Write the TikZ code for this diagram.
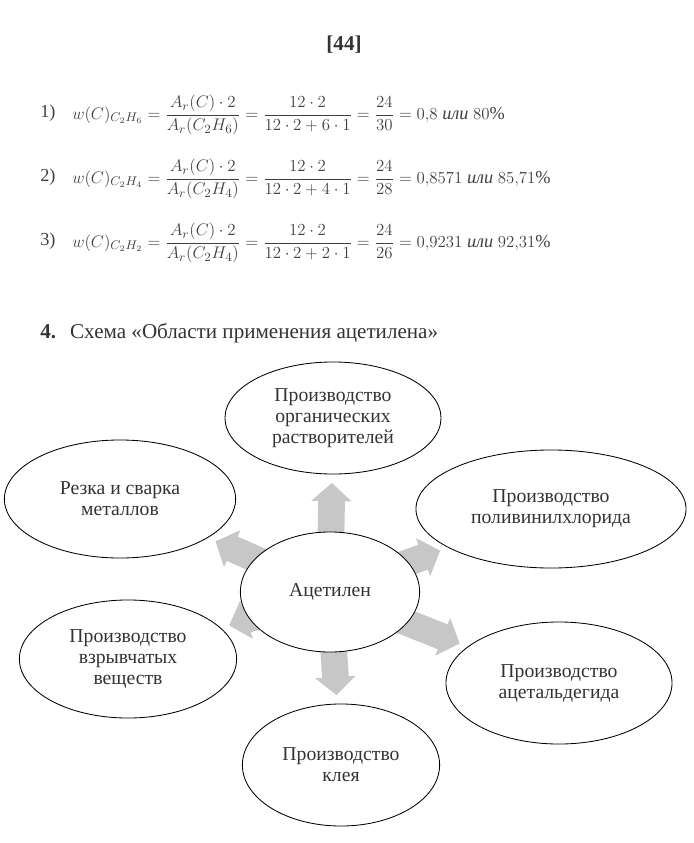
\documentclass[tikz,border=0pt]{standalone}
\usepackage{fontspec}
\setmainfont{Liberation Serif}
\usetikzlibrary{shapes.geometric,arrows.meta,backgrounds}

\tikzset{
    field/.style={ellipse,draw=black,line width=0.6pt,fill=white,inner sep=0pt,align=center,
        text=black!80,font=\fontsize{14}{15}\selectfont},
    bigarr/.style={draw=black!22,line width=19pt,-{Triangle[width=28pt,length=13pt]},
        shorten <=-14pt,shorten >=6pt},
    formula/.style={anchor=west,inner sep=0pt,text=black!75,font=\fontsize{13}{15}\selectfont}
}

\begin{document}
\begin{tikzpicture}[x=0.025cm,y=-0.025cm]
    \useasboundingbox (0,0) rectangle (693,843);
    % Page number
    \node[font=\bfseries\fontsize{15}{15}\selectfont,text=black!80] (page) at (344,45) {[44]};
    % Mass fractions
    \node[formula] (n1) at (40,113) {1)};
    \node[formula] (f1) at (72,115) {$\displaystyle w(C)_{C_2H_6}=\frac{A_r(C)\cdot 2}{A_r(C_2H_6)}=\frac{12\cdot 2}{12\cdot 2+6\cdot 1}=\frac{24}{30}=0{,}8\ \textit{или}\ 80\%$};
    \node[formula] (n2) at (40,177) {2)};
    \node[formula] (f2) at (72,179) {$\displaystyle w(C)_{C_2H_4}=\frac{A_r(C)\cdot 2}{A_r(C_2H_4)}=\frac{12\cdot 2}{12\cdot 2+4\cdot 1}=\frac{24}{28}=0{,}8571\ \textit{или}\ 85{,}71\%$};
    \node[formula] (n3) at (40,241) {3)};
    \node[formula] (f3) at (72,243) {$\displaystyle w(C)_{C_2H_2}=\frac{A_r(C)\cdot 2}{A_r(C_2H_4)}=\frac{12\cdot 2}{12\cdot 2+2\cdot 1}=\frac{24}{26}=0{,}9231\ \textit{или}\ 92{,}31\%$};
    % Scheme
    \node[anchor=west,inner sep=0pt,text=black!80,font=\fontsize{15}{15}\selectfont] (title) at (40,333) {\textbf{4.}\hspace{10pt}Схема «Области применения ацетилена»};

    \node[field,minimum width=4.48cm,minimum height=3.0cm] (ac) at (330,592) {Ацетилен};
    \node[field,minimum width=5.4cm,minimum height=2.8cm] (org) at (333,418) {Производство\\органических\\растворителей};
    \node[field,minimum width=5.78cm,minimum height=2.95cm] (rez) at (120,499) {Резка и сварка\\металлов};
    \node[field,minimum width=6.75cm,minimum height=2.95cm] (pvc) at (551,509) {Производство\\поливинилхлорида};
    \node[field,minimum width=5.43cm,minimum height=2.95cm] (vzr) at (128,659) {Производство\\взрывчатых\\веществ};
    \node[field,minimum width=5.65cm,minimum height=3.05cm] (ald) at (559,683) {Производство\\ацетальдегида};
    \node[field,minimum width=4.93cm,minimum height=3.05cm] (klei) at (341,765) {Производство\\клея};

    \begin{pgfonlayer}{background}
        \foreach \dest in {org,rez,pvc,vzr,ald,klei}
            \draw[bigarr] (ac) -- (\dest);
    \end{pgfonlayer}
\end{tikzpicture}
\end{document}
